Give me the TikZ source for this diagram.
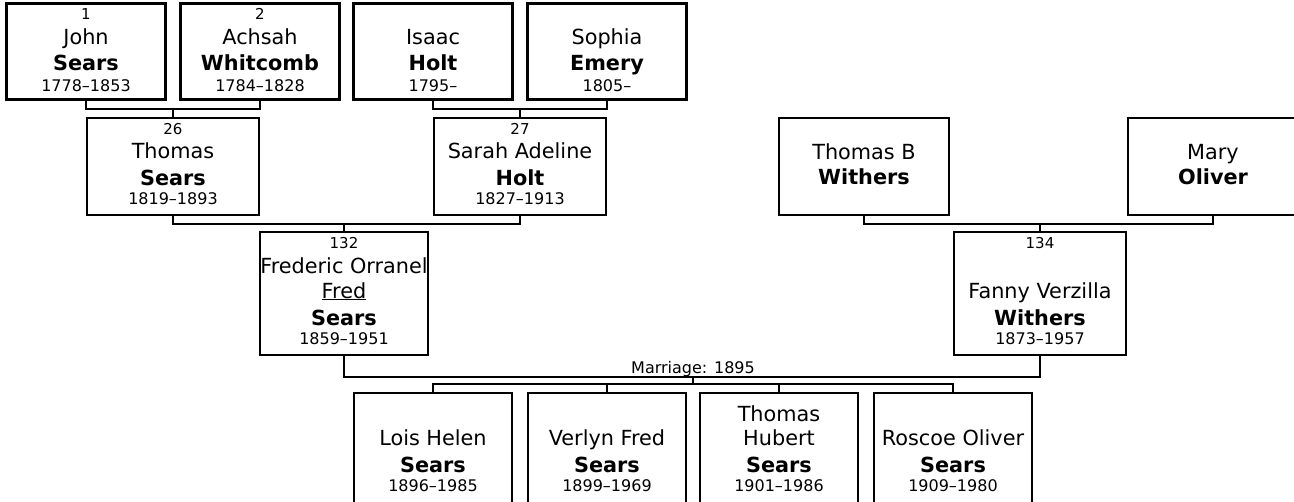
\documentclass[tikz,border=0pt]{standalone}
\usepackage{fontspec}
\setmainfont{DejaVu Sans}
\begin{document}
\begin{tikzpicture}[x=1pt,y=-1pt,
 pb/.style={draw, line width=2.3pt, rectangle, inner sep=0pt, outer sep=0pt},
 num/.style={font=\fontsize{15}{18}\selectfont, inner sep=0pt, anchor=base},
 nm/.style={font=\fontsize{20.8}{24}\selectfont, inner sep=0pt, anchor=base},
 sn/.style={font=\fontsize{20.8}{24}\selectfont\bfseries, inner sep=0pt, anchor=base},
 yr/.style={font=\fontsize{16}{19}\selectfont, inner sep=0pt, anchor=base},
 conn/.style={draw, line width=2.3pt}]
\clip (0,0) rectangle (1294,501);
\useasboundingbox (0,0) rectangle (1294,501);
% ---- boxes
\node[pb, minimum width=159, minimum height=96] (John)   at (86,51.5) {};
\node[pb, minimum width=159, minimum height=96] (Achsah) at (260,51.5) {};
\node[pb, minimum width=159, minimum height=96] (Isaac)  at (433,51.5) {};
\node[pb, minimum width=159, minimum height=96] (Sophia) at (607,51.5) {};
\node[pb, minimum width=172, minimum height=97] (Thomas) at (173,166.5) {};
\node[pb, minimum width=172, minimum height=97] (Sarah)  at (520,166.5) {};
\node[pb, minimum width=170, minimum height=97] (ThomasB) at (864,166.5) {};
\node[pb, minimum width=170, minimum height=97] (Mary)   at (1213,166.5) {};
\node[pb, minimum width=168, minimum height=123] (Fred)  at (344,293.5) {};
\node[pb, minimum width=172, minimum height=123] (Fanny) at (1040,293.5) {};
\node[pb, minimum width=158, minimum height=123] (Lois)   at (433,454.5) {};
\node[pb, minimum width=158, minimum height=123] (Verlyn) at (607,454.5) {};
\node[pb, minimum width=158, minimum height=123] (ThomasH) at (779,454.5) {};
\node[pb, minimum width=158, minimum height=123] (Roscoe) at (953,454.5) {};
% ---- texts
\node[num] (John-a) at (86,19) {1};
\node[nm]  (John-b) at (86,44) {John};
\node[sn]  (John-c) at (86,70) {Sears};
\node[yr]  (John-d) at (86,91) {1778–1853};
\node[num] (Achsah-a) at (260,19) {2};
\node[nm]  (Achsah-b) at (260,44) {Achsah};
\node[sn]  (Achsah-c) at (260,70) {Whitcomb};
\node[yr]  (Achsah-d) at (260,91) {1784–1828};
\node[nm]  (Isaac-b) at (433,44) {Isaac};
\node[sn]  (Isaac-c) at (433,70) {Holt};
\node[yr]  (Isaac-d) at (433,91) {1795–};
\node[nm]  (Sophia-b) at (607,44) {Sophia};
\node[sn]  (Sophia-c) at (607,70) {Emery};
\node[yr]  (Sophia-d) at (607,91) {1805–};
\node[num] (Thomas-a) at (173,134) {26};
\node[nm]  (Thomas-b) at (173,158) {Thomas};
\node[sn]  (Thomas-c) at (173,185) {Sears};
\node[yr]  (Thomas-d) at (173,204) {1819–1893};
\node[num] (Sarah-a) at (520,134) {27};
\node[nm]  (Sarah-b) at (520,158) {Sarah Adeline};
\node[sn]  (Sarah-c) at (520,185) {Holt};
\node[yr]  (Sarah-d) at (520,204) {1827–1913};
\node[nm]  (ThomasB-b) at (864,159) {Thomas B};
\node[sn]  (ThomasB-c) at (864,184) {Withers};
\node[nm]  (Mary-b) at (1213,159) {Mary};
\node[sn]  (Mary-c) at (1213,184) {Oliver};
\node[num] (Fred-a) at (344,248) {132};
\node[nm]  (Fred-b) at (344,273) {Frederic Orranel};
\node[nm]  (Fred-e) at (344,298) {\underline{Fred}};
\node[sn]  (Fred-c) at (344,325) {Sears};
\node[yr]  (Fred-d) at (344,344) {1859–1951};
\node[num] (Fanny-a) at (1040,248) {134};
\node[nm]  (Fanny-b) at (1040,298) {Fanny Verzilla};
\node[sn]  (Fanny-c) at (1040,325) {Withers};
\node[yr]  (Fanny-d) at (1040,344) {1873–1957};
\node[nm]  (Lois-b) at (433,445) {Lois Helen};
\node[sn]  (Lois-c) at (433,472) {Sears};
\node[yr]  (Lois-d) at (433,491) {1896–1985};
\node[nm]  (Verlyn-b) at (607,445) {Verlyn Fred};
\node[sn]  (Verlyn-c) at (607,472) {Sears};
\node[yr]  (Verlyn-d) at (607,491) {1899–1969};
\node[nm]  (ThomasH-a) at (779,421) {Thomas};
\node[nm]  (ThomasH-b) at (779,445) {Hubert};
\node[sn]  (ThomasH-c) at (779,472) {Sears};
\node[yr]  (ThomasH-d) at (779,491) {1901–1986};
\node[nm]  (Roscoe-b) at (953,445) {Roscoe Oliver};
\node[sn]  (Roscoe-c) at (953,472) {Sears};
\node[yr]  (Roscoe-d) at (953,491) {1909–1980};
% ---- connectors
\coordinate (m1) at (173,109);
\coordinate (m2) at (520,109);
\coordinate (m3) at (344,224);
\coordinate (m4) at (1040,224);
\coordinate (mar) at (693,377);
\coordinate (kb) at (693,384);
\draw[conn] (John.south) |- (m1) -| (Achsah.south);
\draw[conn] (m1) -- (Thomas.north);
\draw[conn] (Isaac.south) |- (m2) -| (Sophia.south);
\draw[conn] (m2) -- (Sarah.north);
\draw[conn] (Thomas.south) |- (m3) -| (Sarah.south);
\draw[conn] (m3) -- (Fred.north);
\draw[conn] (ThomasB.south) |- (m4) -| (Mary.south);
\draw[conn] (m4) -- (Fanny.north);
\draw[conn] (Fred.south) -- (Fred.south |- mar) -- (Fanny.south |- mar) -- (Fanny.south);
\node[yr] (marlbl) at (693,373) {Marriage: 1895};
\draw[conn] (mar) -- (kb);
\draw[conn] (Lois.north) -- (Lois.north |- kb) -- (Roscoe.north |- kb) -- (Roscoe.north);
\draw[conn] (Verlyn.north) -- (Verlyn.north |- kb);
\draw[conn] (ThomasH.north) -- (ThomasH.north |- kb);
\end{tikzpicture}
\end{document}
